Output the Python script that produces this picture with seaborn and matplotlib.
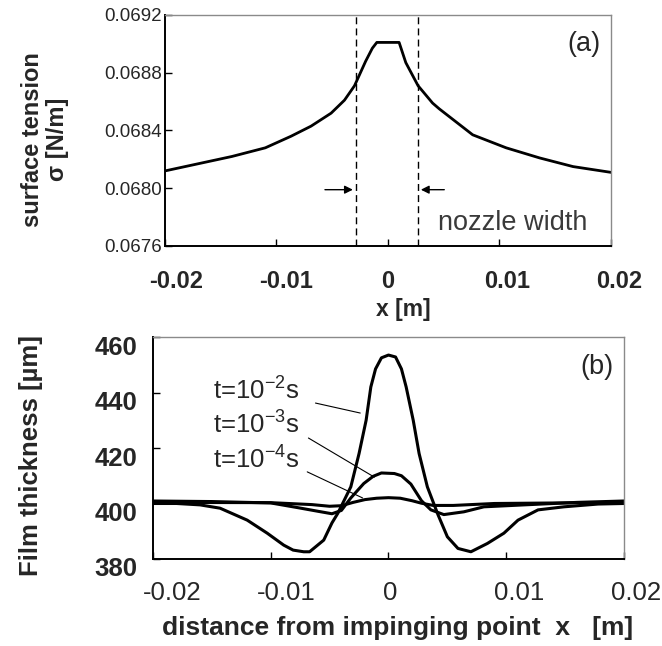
import numpy as np
import pandas as pd
import seaborn as sns
import matplotlib.pyplot as plt
from matplotlib.transforms import ScaledTranslation

# =====================================
# Data
# =====================================
# (a) surface tension along x
x_sigma = [-0.020, -0.017, -0.014, -0.011, -0.0087, -0.0069, -0.0051, -0.0039,
           -0.0030, -0.0020, -0.0014, -0.0010, 0.0010, 0.0016, 0.0027, 0.0040,
           0.0046, 0.0061, 0.0076, 0.0106, 0.0136, 0.0166, 0.0200]
sigma = [0.06812, 0.06817, 0.06822, 0.06828, 0.06836, 0.06843, 0.06852, 0.06861,
         0.06871, 0.06888, 0.06897, 0.06901, 0.06901, 0.06887, 0.06871, 0.06859,
         0.06855, 0.06846, 0.06837, 0.06828, 0.06821, 0.06815, 0.06811]
nozzle_edges = [-0.0029, 0.0027]

# (b) film thickness, three times
x_t2 = [-0.0200, -0.0180, -0.0160, -0.0143, -0.0120, -0.0103, -0.0089, -0.0081,
        -0.0072, -0.0067, -0.0055, -0.0048, -0.0043, -0.0032, -0.0025, -0.0019,
        -0.0015, -0.0011, -0.0006, 0.0000, 0.0006, 0.0011, 0.0015, 0.0021,
        0.0026, 0.0033, 0.0042, 0.0050, 0.0059, 0.0070, 0.0084, 0.0098,
        0.0110, 0.0127, 0.0149, 0.0178, 0.0200]
h_t2 = [400.0, 400.0, 399.5, 398.3, 394.0, 389.3, 385.0, 383.2,
        382.6, 382.6, 386.8, 393.0, 396.5, 406.0, 418.0, 430.0,
        442.0, 448.5, 452.5, 453.5, 452.8, 448.5, 442.0, 430.0,
        418.0, 406.0, 396.0, 388.0, 383.8, 382.6, 385.6, 389.3,
        394.0, 397.7, 398.8, 399.8, 400.0]

x_t3 = [-0.0200, -0.0150, -0.0100, -0.0077, -0.0060, -0.0048, -0.0040, -0.0032,
        -0.0021, -0.0013, -0.0006, 0.0005, 0.0011, 0.0019, 0.0028, 0.0036,
        0.0047, 0.0064, 0.0081, 0.0120, 0.0160, 0.0200]
h_t3 = [400.9, 400.7, 400.2, 398.5, 397.2, 396.3, 397.5, 402.0,
        407.2, 409.8, 411.0, 410.8, 410.0, 407.0, 401.0, 397.7,
        396.0, 397.0, 398.8, 399.6, 400.4, 400.9]

x_t4 = [-0.0200, -0.0100, -0.0065, -0.0050, -0.0040, -0.0030, -0.0020, -0.0010,
        0.0000, 0.0010, 0.0020, 0.0028, 0.0038, 0.0055, 0.0090, 0.0200]
h_t4 = [400.4, 400.3, 399.6, 399.0, 399.2, 400.4, 401.4, 401.9,
        402.1, 401.9, 401.0, 400.1, 399.3, 399.3, 400.0, 400.4]

time_labels = ["t=10$^{-2}$s", "t=10$^{-3}$s", "t=10$^{-4}$s"]
# label baseline (x, h) and leader line ends
label_pos = [(-0.0149, 437.3), (-0.0149, 425.3), (-0.0149, 412.7)]
leader_start = [(-0.0062, 436.2), (-0.0068, 423.6), (-0.0069, 411.4)]
leader_end = [(-0.0024, 432.6), (-0.0012, 409.5), (-0.0022, 402.0)]

x_ticks = [-0.02, -0.01, 0, 0.01, 0.02]
x_ticklabels = ["-0.02", "-0.01", "0", "0.01", "0.02"]
sigma_ticks = [0.0676, 0.0680, 0.0684, 0.0688, 0.0692]
sigma_ticklabels = ["0.0676", "0.0680", "0.0684", "0.0688", "0.0692"]
h_ticks = [380, 400, 420, 440, 460]
h_ticklabels = ["380", "400", "420", "440", "460"]

sns.set_theme(style="white")
plt.rcParams["font.family"] = ["Liberation Sans", "DejaVu Sans"]
plt.rcParams["mathtext.default"] = "regular"

fig = plt.figure(figsize=(6.62, 6.46), dpi=100)
ax1 = fig.add_axes([0.2492, 0.6192, 0.6737, 0.3576])
ax2 = fig.add_axes([0.2311, 0.1347, 0.7115, 0.3436])


def style_box(ax):
    for side in ["left", "bottom"]:
        ax.spines[side].set_color("black")
        ax.spines[side].set_linewidth(1.4)
    for side in ["top", "right"]:
        ax.spines[side].set_color("#8a8a8a")
        ax.spines[side].set_linewidth(1.0)
    ax.tick_params(direction="in", length=5, width=1, color="black",
                   top=False, right=False, left=True, bottom=True)


def shift_labels(labels, dx_px, dy_px):
    # nudge tick labels by pixels (reference labels sit off-centre)
    for lab, dx, dy in zip(labels, dx_px, dy_px):
        lab.set_transform(lab.get_transform()
                          + ScaledTranslation(dx / 100, dy / 100, fig.dpi_scale_trans))


# -----------------------------------
# (a) surface tension
# -----------------------------------
sns.lineplot(x=x_sigma, y=sigma, ax=ax1, color="black", linewidth=2.0,
             sort=False, estimator=None)
for xe in nozzle_edges:
    ax1.axvline(xe, color="black", linestyle=(0, (5, 3)), linewidth=1.0)

arrow_y = 0.06799
ax1.annotate("", xy=(nozzle_edges[0], arrow_y), xytext=(-0.0059, arrow_y),
             arrowprops=dict(arrowstyle="-|>", color="black", lw=1.0, mutation_scale=12))
ax1.annotate("", xy=(nozzle_edges[1], arrow_y), xytext=(0.0053, arrow_y),
             arrowprops=dict(arrowstyle="-|>", color="black", lw=1.0, mutation_scale=12))
ax1.text(0.0045, 0.06776, "nozzle width", fontsize=19.5, color="#3a3a3a",
         ha="left", va="center")
ax1.text(0.0176, 0.06900, "(a)", fontsize=19.5, ha="center", va="center")

ax1.set_xlim(-0.02, 0.02)
ax1.set_ylim(0.0676, 0.0692)
ax1.set_xticks(x_ticks)
ax1.set_xticklabels(x_ticklabels, fontsize=17, fontweight="bold")
ax1.set_yticks(sigma_ticks)
ax1.set_yticklabels(sigma_ticklabels, fontsize=13.5)
style_box(ax1)
ax1.tick_params(axis="x", pad=17)
ax1.tick_params(axis="y", pad=2)
shift_labels(ax1.get_xticklabels(), [11, 10, 0, 8, 8], [0] * 5)

ax1.set_xlabel("x [m]", fontsize=16.5, fontweight="bold")
ax1.xaxis.label.set_va("center")
ax1.xaxis.set_label_coords(0.534, -0.277)
ax1.set_ylabel("surface tension\n\u03c3 [N/m]", fontsize=17, fontweight="bold",
               linespacing=1.1)
ax1.yaxis.label.set_va("center")
ax1.yaxis.set_label_coords(-0.269, 0.46)

# -----------------------------------
# (b) film thickness
# -----------------------------------
for xs, hs in [(x_t2, h_t2), (x_t3, h_t3), (x_t4, h_t4)]:
    sns.lineplot(x=xs, y=hs, ax=ax2, color="black", linewidth=2.2,
                 sort=False, estimator=None)

for lab, (lx, ly), s, e in zip(time_labels, label_pos, leader_start, leader_end):
    ax2.text(lx, ly, lab, fontsize=18.5, ha="left", va="baseline")
    ax2.plot([s[0], e[0]], [s[1], e[1]], color="black", linewidth=0.8)

ax2.text(0.0177, 449.2, "(b)", fontsize=19.5, ha="center", va="center")

ax2.set_xlim(-0.02, 0.02)
ax2.set_ylim(380, 460)
ax2.set_xticks(x_ticks)
ax2.set_xticklabels(x_ticklabels, fontsize=18.5)
ax2.set_yticks(h_ticks)
ax2.set_yticklabels(h_ticklabels, fontsize=18.5, fontweight="bold")
style_box(ax2)
ax2.tick_params(axis="x", pad=16)
ax2.tick_params(axis="y", pad=11)
shift_labels(ax2.get_xticklabels(), [19, 16, 2, 13, 12], [0] * 5)
shift_labels(ax2.get_yticklabels(), [0] * 5, [-8] * 5)

ax2.set_xlabel("distance from impinging point  x   [m]", fontsize=19, fontweight="bold")
ax2.xaxis.label.set_va("center")
ax2.xaxis.set_label_coords(0.52, -0.311)
ax2.set_ylabel("Film thickness [\u00b5m]", fontsize=18.5, fontweight="bold")
ax2.yaxis.label.set_va("center")
ax2.yaxis.set_label_coords(-0.259, 0.464)

fig.savefig("out.png", dpi=100, facecolor="white")
